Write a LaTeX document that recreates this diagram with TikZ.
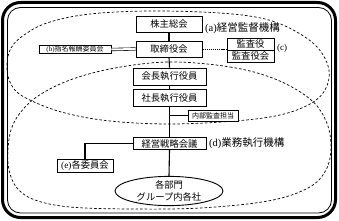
\documentclass[tikz,border=0pt]{standalone}
\usepackage{fontspec}
\setmainfont{Liberation Serif}
\newfontfamily\jp{Noto Sans CJK JP}
\usetikzlibrary{shapes.geometric}
\newcommand\lat[1]{{\rmfamily #1}}
\tikzset{
  box/.style={draw=black, line width=0.9pt, fill=white, inner sep=0pt, font=\jp\fontsize{9.3}{11}\selectfont},
  smallbox/.style={box, font=\jp\fontsize{7}{8}\selectfont},
  lbl/.style={inner sep=0pt, anchor=west, font=\jp\fontsize{10.5}{12}\selectfont},
  conn/.style={line width=1.1pt},
  region/.style={dash pattern=on 2.6pt off 2pt, line width=0.7pt},
}
\begin{document}
\begin{tikzpicture}[x=1pt,y=-1pt]
\useasboundingbox (0,0) rectangle (339,221);
% frame
\draw[line width=3pt, rounded corners=18pt] (2.5,2.5) rectangle (335.5,217.5);
\draw[line width=0.8pt, rounded corners=13pt] (7.5,7.5) rectangle (331.5,213);
% dashed regions
\draw[region] plot[smooth cycle, tension=0.6] coordinates {
 (7,70) (11,48) (27,33) (50,22) (90,14) (150,11) (220,13) (265,19) (295,31) (318,48) (329,70) (325,90) (310,104) (280,115) (235,121) (170,124) (110,121) (65,113) (32,101) (14,89)};
\draw[region] plot[smooth cycle, tension=0.6] coordinates {
 (170,62) (230,67) (275,79) (310,99) (326,121) (331,146) (326,170) (308,188) (268,201) (200,208) (130,209) (70,207) (35,200) (17,188) (9,170) (8,150) (11,130) (20,113) (38,96) (70,80) (115,68)};
% nodes
\node[box, minimum width=66pt, minimum height=16pt] (kabu) at (169,24) {株主総会};
\node[box, minimum width=66pt, minimum height=16pt] (tori) at (169,49) {取締役会};
\node[box, minimum width=73pt, minimum height=17pt] (kaicho) at (169.5,76.5) {会長執行役員};
\node[box, minimum width=73pt, minimum height=17pt] (shacho) at (169.5,98) {社長執行役員};
\node[smallbox, minimum width=50pt, minimum height=11pt] (naibu) at (213,115.5) {内部監査担当};
\node[box, minimum width=73pt, minimum height=12pt] (senryaku) at (169.5,143.5) {経営戦略会議};
\node[box, minimum width=56pt, minimum height=13pt] (iinkai) at (85,165.5) {\lat{(e)}各委員会};
\node[box, ellipse, minimum width=108pt, minimum height=28pt, align=center, font=\jp\fontsize{9.3}{12}\selectfont] (bumon) at (169,191) {各部門\\グループ内各社};
\node[smallbox, minimum width=72pt, minimum height=8.5pt] (shimei) at (75,49.5) {\lat{(b)}指名報酬委員会};
\node[box, minimum width=47pt, minimum height=12pt] (kansa1) at (250.5,44) {監査役};
\node[box, minimum width=47pt, minimum height=12pt] (kansa2) at (250.5,56) {監査役会};
% labels
\node[lbl, fill=white] (la) at (205,28) {\lat{(a)}経営監督機構};
\node[lbl, font=\rmfamily\fontsize{9}{10}\selectfont] (lc) at (277,48) {(c)};
\node[lbl] (ld) at (209,143.5) {\lat{(d)}業務執行機構};
% connectors
\coordinate (tapN) at (169,115.5);
\coordinate (eCorner) at (iinkai.north |- senryaku.west);
\draw[conn] (kabu.south) -- (tori.north);
\draw[conn] (tori.south) -- (kaicho.north);
\draw[conn] (kaicho.south) -- (shacho.north);
\draw[conn] (shacho.south) -- (senryaku.north);
\draw[conn] (senryaku.south) -- (bumon.north);
\draw[conn] (tapN) -- (naibu.west);
\draw[conn] (senryaku.west) -- (eCorner) -- (iinkai.north);
\draw[line width=0.6pt, double=white, double distance=2pt] (shimei.east) -- (tori.west);
\draw[line width=0.7pt, dash pattern=on 1.2pt off 0.9pt] (tori.east) -- (tori.east -| kansa1.west);
\end{tikzpicture}
\end{document}
